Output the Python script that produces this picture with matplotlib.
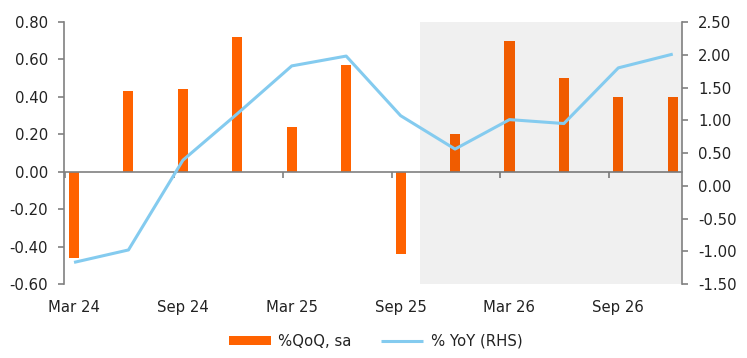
import matplotlib
matplotlib.use("Agg")
import matplotlib.pyplot as plt
import matplotlib.transforms as mtransforms
import numpy as np

categories = ["Mar 24", "Jun 24", "Sep 24", "Dec 24", "Mar 25", "Jun 25",
              "Sep 25", "Dec 25", "Mar 26", "Jun 26", "Sep 26", "Dec 26"]
qoq = [-0.46, 0.43, 0.44, 0.72, 0.24, 0.57, -0.44, 0.20, 0.70, 0.50, 0.40, 0.40]
yoy = [-1.17, -0.98, 0.39, 1.10, 1.83, 1.98, 1.07, 0.56, 1.01, 0.95, 1.80, 2.01]
tick_labels = ["Mar 24", "Sep 24", "Mar 25", "Sep 25", "Mar 26", "Sep 26"]
left_ticks = [-0.6, -0.4, -0.2, 0.0, 0.2, 0.4, 0.6, 0.8]
right_ticks = [-1.5, -1.0, -0.5, 0.0, 0.5, 1.0, 1.5, 2.0, 2.5]
forecast_start = "Dec 25"

plt.rcParams['font.family'] = ['DejaVu Sans']
FS = 10.7
plt.rcParams['font.size'] = FS

ORANGE = "#FF6200"
BLUE = "#84CBEF"
GREY = "#808080"
TXT = "#222222"

fig = plt.figure(figsize=(7.47, 3.58), dpi=100)
ax = fig.add_axes([0.0857, 0.2067, 0.913 - 0.0857, 0.9385 - 0.2067])
ax2 = ax.twinx()

x = np.arange(len(categories))
ax.bar(x, qoq, width=0.185, color=ORANGE, zorder=2, label="%QoQ, sa")
ax2.plot(x, yoy, color=BLUE, lw=2.2, solid_capstyle='butt', label="% YoY (RHS)", zorder=3)

fs = categories.index(forecast_start)
ax.axvspan(fs - 0.64, 12, color='black', alpha=0.06, lw=0, zorder=3)

ax.set_xlim(-0.184, 11.17)
ax.set_ylim(-0.6, 0.8)
ax2.set_ylim(-1.5, 2.5)

ax.set_yticks(left_ticks)
ax.set_yticklabels([f"{v:.2f}" for v in left_ticks])
ax2.set_yticks(right_ticks)
ax2.set_yticklabels([f"{v:.2f}" for v in right_ticks])

for a in (ax, ax2):
    a.spines['top'].set_visible(False)
    for s in a.spines.values():
        s.set_color(GREY)
        s.set_linewidth(1.2)
ax.spines['right'].set_visible(False)
ax2.spines['left'].set_visible(False)
ax2.spines['bottom'].set_visible(False)
ax.spines['bottom'].set_position(('data', 0))

ax.tick_params(axis='y', direction='out', length=4, width=1.2, color=GREY,
               pad=7.5, labelcolor=TXT, labelsize=FS)
ax2.tick_params(axis='y', direction='out', length=4, width=1.2, color=GREY,
                pad=7.5, labelcolor=TXT, labelsize=FS)

label_pos = [categories.index(t) for t in tick_labels]
ax.set_xticks([p - 0.165 for p in label_pos])
ax.set_xticklabels([])
ax.tick_params(axis='x', direction='out', length=4, width=1.2, color=GREY)

trans = mtransforms.blended_transform_factory(ax.transData, ax.transAxes)
for p, t in zip(label_pos, tick_labels):
    ax.text(p, -0.088, t, transform=trans, ha='center', va='center',
            fontsize=FS, color=TXT)

h1, l1 = ax.get_legend_handles_labels()
h2, l2 = ax2.get_legend_handles_labels()
leg = fig.legend(h1 + h2, l1 + l2, loc='center', bbox_to_anchor=(0.503, 1 - 341 / 358),
                 ncol=2, frameon=False, handlelength=2.8, handleheight=0.6,
                 handletextpad=0.5, columnspacing=2.0, fontsize=FS)
for t in leg.get_texts():
    t.set_color(TXT)

fig.savefig("out.png", dpi=100)
